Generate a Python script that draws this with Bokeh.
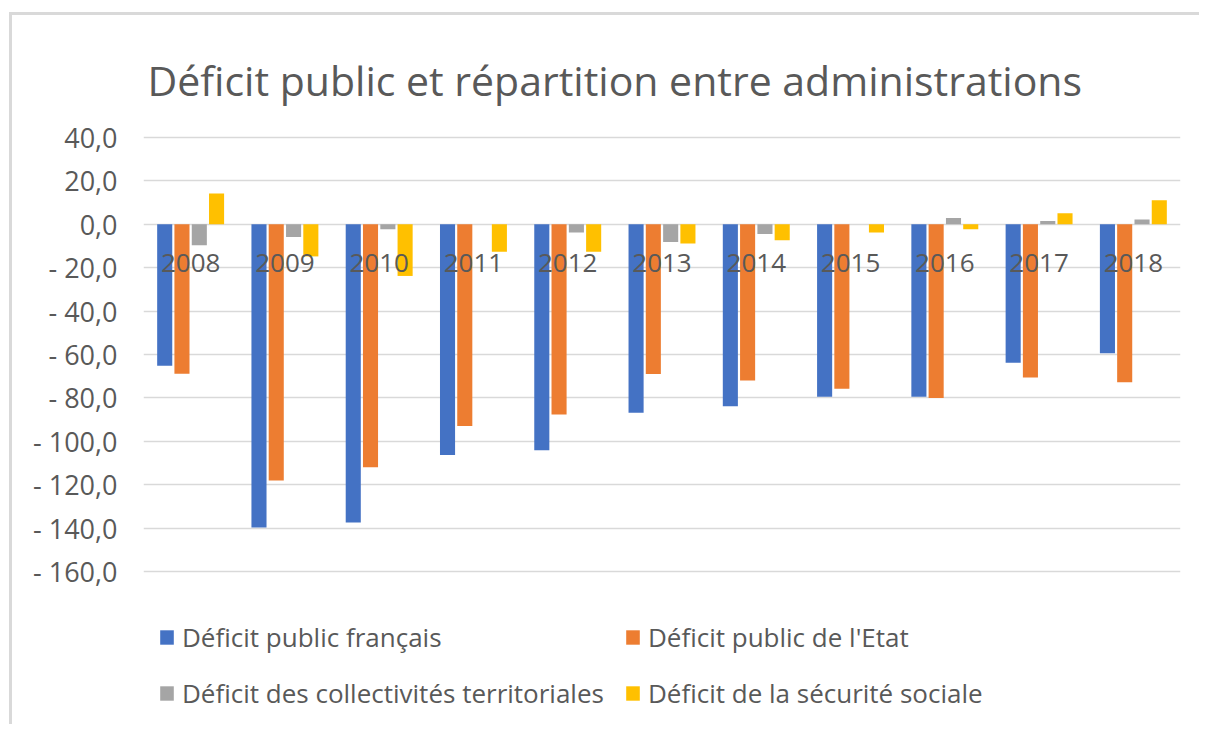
from bokeh.plotting import figure
from bokeh.models import (FactorRange, Range1d, ColumnDataSource, FixedTicker,
                          CustomJSTickFormatter, Legend, LegendItem)
from bokeh.transform import dodge
from bokeh.core.properties import value
from bokeh.embed import file_html
from bokeh.resources import INLINE

# ---------------- data ----------------
years = ["2008", "2009", "2010", "2011", "2012", "2013", "2014", "2015", "2016", "2017", "2018"]
deficit_public_francais = [-65.2, -139.7, -137.4, -106.3, -104.1, -86.9, -83.8, -79.5, -79.5, -63.8, -59.4]
deficit_etat = [-68.9, -118.1, -112.0, -92.9, -87.7, -69.0, -72.0, -75.8, -80.1, -70.6, -72.8]
deficit_collectivites = [-9.7, -5.8, -2.3, 0.0, -3.8, -8.2, -4.5, 0.0, 2.9, 1.5, 2.2]
deficit_securite_sociale = [14.2, -14.8, -23.8, -12.6, -12.6, -8.9, -7.4, -3.8, -2.3, 5.1, 11.1]
series_names = ["Déficit public français", "Déficit public de l'Etat",
                "Déficit des collectivités territoriales", "Déficit de la sécurité sociale"]
y_ticks = [40, 20, 0, -20, -40, -60, -80, -100, -120, -140, -160]
title_text = "Déficit public et répartition entre administrations"

# ---------------- style / layout ----------------
colors = ["#4472C4", "#ED7D31", "#A5A5A5", "#FFC000"]
txt = "#595959"
font = "Open Sans"

W, H = 1190, 712
MB_L, MB_R, MB_T, MB_B = 131, 22, 10, 4
GRID_TOP = 122        # canvas offset of the top gridline
GRID_PX = 434         # pixel height of the gridded area
TITLE_BASE = 64       # canvas offset of the title baseline
y_max, y_min = max(y_ticks), min(y_ticks)
scale = GRID_PX / (y_max - y_min)
y_top = y_max + (GRID_TOP - MB_T) / scale
y_bottom = y_min - ((H - MB_B) - (GRID_TOP + GRID_PX)) / scale
title_y = y_max + (GRID_TOP - TITLE_BASE) / scale

src = ColumnDataSource(dict(year=years, s0=deficit_public_francais, s1=deficit_etat,
                            s2=deficit_collectivites, s3=deficit_securite_sociale,
                            ly=[-18.0] * len(years)))
title_src = ColumnDataSource(dict(x=[years[0]], y=[title_y], t=[title_text]))

p = figure(width=W, height=H, x_range=FactorRange(*years, range_padding=0),
           y_range=Range1d(y_bottom, y_top),
           output_backend="svg", toolbar_location=None,
           min_border_left=MB_L, min_border_right=MB_R, min_border_top=MB_T, min_border_bottom=MB_B)
p.styles = {"border-top": "3px solid #d9d9d9", "border-left": "3px solid #d9d9d9",
            "margin-left": "9px", "margin-top": "12px"}

p.outline_line_color = None
p.xaxis.visible = False
p.xgrid.grid_line_color = None
p.ygrid.grid_line_color = "#d9d9d9"
p.ygrid.grid_line_width = 1.6

yax = p.yaxis[0]
yax.ticker = FixedTicker(ticks=y_ticks)
yax.formatter = CustomJSTickFormatter(code="""
const a = Math.abs(tick).toFixed(1).replace('.', ',');
return tick < 0 ? '- ' + a : a;
""")
yax.axis_line_color = None
yax.major_tick_line_color = None
yax.minor_tick_line_color = None
yax.major_label_text_font = font
yax.major_label_text_font_size = "27px"
yax.major_label_text_color = txt
yax.major_label_standoff = 20

offsets = [-0.275, -0.092, 0.092, 0.275]
renderers = []
for i, off in enumerate(offsets):
    r = p.vbar(x=dodge("year", off, range=p.x_range), top=f"s{i}", bottom=0, width=0.16,
               source=src, fill_color=colors[i], line_color=None)
    renderers.append(r)

p.text(x="year", y="ly", text="year", source=src, text_align="center", text_baseline="middle",
       text_font=value(font), text_font_size="26px", text_color=txt)

# chart title
p.text(x=dodge("x", -0.457, range=p.x_range), y="y", text="t", source=title_src,
       text_align="left", text_baseline="alphabetic",
       text_font=value(font), text_font_size="41px", text_color=txt)

legend = Legend(items=[LegendItem(label=series_names[i], renderers=[renderers[i]]) for i in range(4)],
                location=(15, 12), ncols=2, orientation="horizontal",
                glyph_width=17, glyph_height=18, label_standoff=7, spacing=20,
                label_text_font=font, label_text_font_size="26px", label_text_color=txt,
                border_line_color=None, background_fill_alpha=0, padding=0, margin=0)
p.add_layout(legend, "center")

open("out.html", "w").write(file_html(p, INLINE))
